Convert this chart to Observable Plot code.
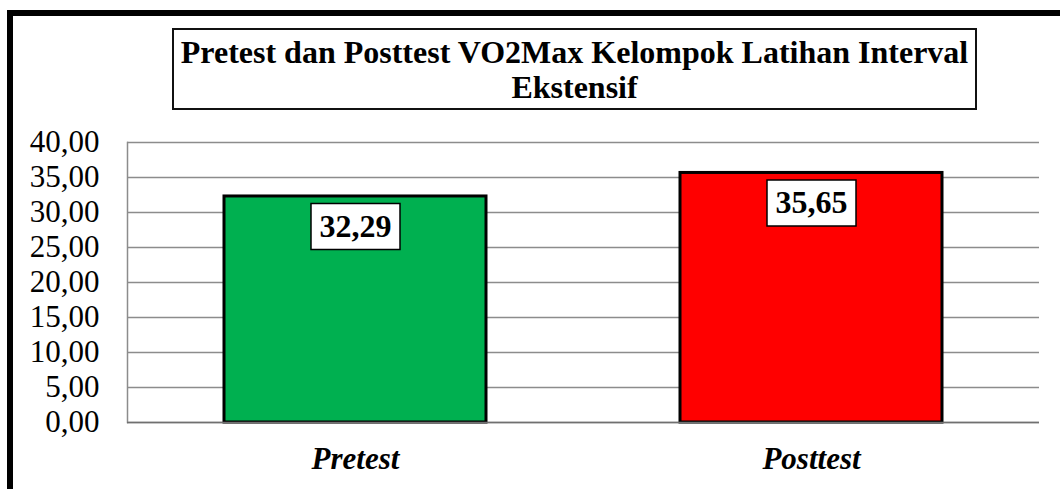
<!DOCTYPE html>
<html>
<head>
<meta charset="utf-8">
<script src="https://cdn.jsdelivr.net/npm/d3@7"></script>
<script src="https://cdn.jsdelivr.net/npm/@observablehq/plot@0.6"></script>
<style>
  html, body { margin: 0; padding: 0; background: #fff; overflow: hidden; }
  #wrap { position: relative; width: 1060px; height: 489px; overflow: hidden; font-family: "Liberation Serif", "Times New Roman", serif; }
  #border { position: absolute; left: 7px; top: 10px; width: 1200px; height: 700px; border: 6px solid #000; box-sizing: border-box; pointer-events: none; }
  #title { position: absolute; left: 172px; top: 28px; width: 805px; height: 82px; box-sizing: border-box; border: 2px solid #111; background: #fff;
    font-family: "Liberation Serif", "Times New Roman", serif; font-weight: bold; font-size: 32px; line-height: 35px; text-align: center; padding-top: 5px; color: #000; white-space: nowrap; }
  #chart { position: absolute; left: 0; top: 0; }
</style>
</head>
<body>
<div id="wrap">
  <div id="chart"></div>
  <div id="border"></div>
  <div id="title">Pretest dan Posttest VO2Max Kelompok Latihan Interval<br>Ekstensif</div>
</div>
<script>
const categories = ["Pretest", "Posttest"];
const values = [32.29, 35.65];
const barColors = ["#00B050", "#FF0000"];
const yTicks = [0, 5, 10, 15, 20, 25, 30, 35, 40];

const data = categories.map((c, i) => ({category: c, value: values[i], color: barColors[i]}));
const fmt = d => d.toFixed(2).replace(".", ",");

const labelBox = {
  draw(ctx, size) { ctx.rect(-44.5, -23, 89, 46); }
};

const plot = Plot.plot({
  width: 1060,
  height: 489,
  marginLeft: 127,
  marginRight: 21,
  marginTop: 142,
  marginBottom: 67,
  style: {background: "transparent", fontFamily: "'Liberation Serif', 'Times New Roman', serif", color: "#000"},
  x: {domain: categories, paddingInner: 0.425, paddingOuter: 0.2125},
  y: {domain: [0, 40]},
  marks: [
    Plot.gridY({ticks: yTicks, stroke: "#8c8c8c", strokeOpacity: 1, strokeWidth: 1.5}),
    Plot.frame({anchor: "left", stroke: "#8c8c8c", strokeWidth: 1.5}),
    Plot.barY(data, {x: "category", y: "value", fill: "color", stroke: "#000", strokeWidth: 3}),
    Plot.ruleY([0], {stroke: "#707070", strokeWidth: 1.5}),
    Plot.dot(data, {x: "category", y: "value", symbol: labelBox, r: 10, fill: "#fff", stroke: "#000", strokeWidth: 1.5, dy: 30}),
    Plot.text(data, {x: "category", y: "value", text: d => fmt(d.value), dy: 30, fontSize: 32, fontWeight: "bold", fill: "#000"}),
    Plot.axisY({ticks: yTicks, tickFormat: fmt, tickSize: 0, tickPadding: 28, fontSize: 31, fill: "#000", label: null}),
    Plot.axisX({tickSize: 0, tickPadding: 24, fontSize: 31, fontWeight: "bold", fontStyle: "italic", fill: "#000", label: null})
  ]
});
document.getElementById("chart").appendChild(plot);
</script>
</body>
</html>
